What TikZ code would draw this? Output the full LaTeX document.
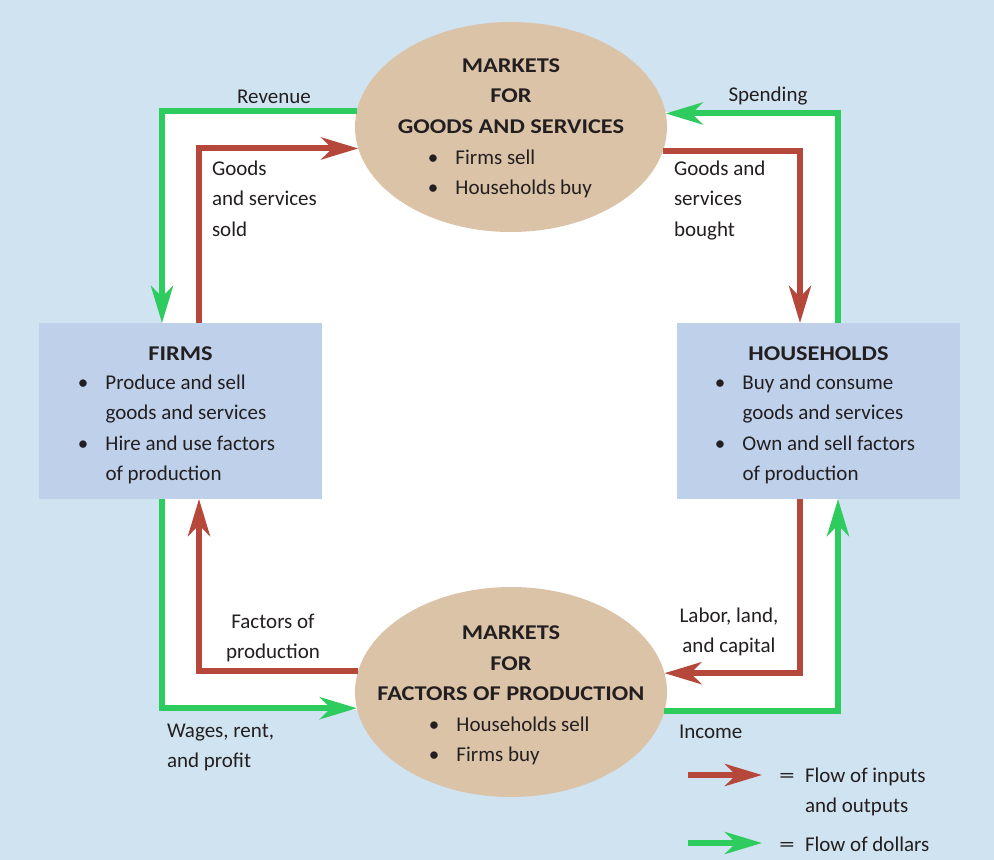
\documentclass[tikz,border=0pt]{standalone}
\usepackage{fontspec}
\setmainfont{Carlito}
\newfontfamily\titlefont{Carlito}[FakeStretch=1.16]
\usetikzlibrary{arrows.meta,shapes.geometric}
\definecolor{bgblue}{RGB}{208,227,241}
\definecolor{boxblue}{RGB}{190,208,234}
\definecolor{tan}{RGB}{219,195,168}
\definecolor{flowred}{RGB}{181,72,58}
\definecolor{flowgreen}{RGB}{46,204,94}
\definecolor{ink}{RGB}{35,31,32}
\newcommand\bul{\makebox[0pt]{\textbullet}\hspace*{22.5pt}}
\newcommand\ind{\hspace*{22.5pt}}
\newcommand\eqsign{\makebox[36pt]{\scalebox{1.5}[1]{=}}}
\begin{document}
\begin{tikzpicture}[x=1pt,y=-1pt,
  every node/.style={font=\fontsize{21}{30.5}\selectfont, text=ink, inner sep=0pt, outer sep=0pt},
  lbl/.style={yshift=-1.5pt},
  titletext/.style={lbl, font=\fontsize{21}{30.5}\selectfont\titlefont\bfseries},
  marketsh/.style={ellipse, fill=tan, minimum width=312pt, minimum height=210pt},
  agentbox/.style={rectangle, fill=boxblue, minimum width=283pt, minimum height=176pt},
  flow/.style={line width=6pt, line join=miter, -{Stealth[length=37pt,width=22pt,inset=11pt]}},
  redflow/.style={flow, draw=flowred},
  greenflow/.style={flow, draw=flowgreen}]
\useasboundingbox (0,0) rectangle (994,860);
\fill[bgblue] (0,0) rectangle (994,860);
\fill[white] (162,112) rectangle (838,710);

% main shapes
\node[marketsh] (mgs) at (511,127) {};
\node[marketsh] (mfp) at (511,692) {};
\node[agentbox] (firms) at (180.5,411) {};
\node[agentbox] (hh) at (818.5,411) {};

% flows
\draw[redflow] ([xshift=18.5pt]firms.north) |- (mgs.188.2);
\draw[greenflow] (mgs.174.45) -| ([xshift=-18.5pt]firms.north);
\draw[greenflow] ([xshift=19.5pt]hh.north) |- (mgs.5.55);
\draw[redflow] (mgs.351.8) -| ([xshift=-18.5pt]hh.north);
\draw[redflow] (mfp.172.9) -| ([xshift=18.5pt]firms.south);
\draw[greenflow] ([xshift=-18.5pt]firms.south) |- (mfp.186.7);
\draw[redflow] ([xshift=-18.5pt]hh.south) |- (mfp.7.1);
\draw[greenflow] (mfp.353.3) -| ([xshift=19.5pt]hh.south);

% texts in shapes
\node[titletext] (mgst) at (511,95) {\begin{tabular}{@{}c@{}}MARKETS\\FOR\\GOODS AND SERVICES\end{tabular}};
\node[lbl, anchor=west] (mgsl) at (433,172) {\begin{tabular}{@{}l@{}}\bul Firms sell\\\bul Households buy\end{tabular}};
\node[titletext] (mfpt) at (511,662.5) {\begin{tabular}{@{}c@{}}MARKETS\\FOR\\FACTORS OF PRODUCTION\end{tabular}};
\node[lbl, anchor=west] (mfpl) at (434,739) {\begin{tabular}{@{}l@{}}\bul Households sell\\\bul Firms buy\end{tabular}};
\node[titletext] (firmst) at (180.5,352) {FIRMS};
\node[lbl, anchor=west] (firmsl) at (83,427.5) {\begin{tabular}{@{}l@{}}\bul Produce and sell\\\ind goods and services\\\bul Hire and use factors\\\ind of production\end{tabular}};
\node[titletext] (hht) at (818.5,352) {HOUSEHOLDS};
\node[lbl, anchor=west] (hhl) at (720,427.5) {\begin{tabular}{@{}l@{}}\bul Buy and consume\\\ind goods and services\\\bul Own and sell factors\\\ind of production\end{tabular}};

% flow labels
\node[lbl] (rev) at (274,95) {Revenue};
\node[lbl] (spd) at (768,95) {Spending};
\node[lbl, anchor=west] (gss) at (212,198) {\begin{tabular}{@{}l@{}}Goods\\and services\\sold\end{tabular}};
\node[lbl, anchor=west] (gsb) at (674,198) {\begin{tabular}{@{}l@{}}Goods and\\services\\bought\end{tabular}};
\node[lbl] (fop) at (273,636) {\begin{tabular}{@{}c@{}}Factors of\\production\end{tabular}};
\node[lbl] (llc) at (729,630) {\begin{tabular}{@{}c@{}}Labor, land,\\and capital\end{tabular}};
\node[lbl, anchor=west] (wrp) at (167,745) {\begin{tabular}{@{}l@{}}Wages, rent,\\and profit\end{tabular}};
\node[lbl, anchor=west] (inc) at (679,730) {Income};

% legend
\coordinate (lr0) at (688,775);
\coordinate (lr1) at (762,775);
\coordinate (lg0) at (688,843);
\coordinate (lg1) at (762,843);
\draw[redflow] (lr0) -- (lr1);
\draw[greenflow] (lg0) -- (lg1);
\node[lbl, anchor=west] (lrt) at (769,790) {\begin{tabular}{@{}l@{}}\eqsign Flow of inputs\\\hspace*{36pt}and outputs\end{tabular}};
\node[lbl, anchor=west] (lgt) at (769,843) {\eqsign Flow of dollars};
\end{tikzpicture}
\end{document}
